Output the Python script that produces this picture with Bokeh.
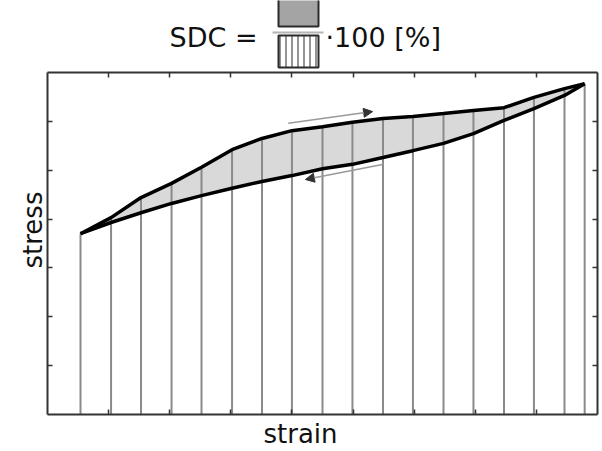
import math
from bokeh.plotting import figure
from bokeh.models import Range1d, FixedTicker, LinearAxis, Arrow, NormalHead, Title
from bokeh.layouts import column
from bokeh.embed import file_html
from bokeh.resources import INLINE
from bokeh.core.properties import value

# ---- data ----
strain = [0.54, 1.04, 1.53, 2.03, 2.52, 3.02, 3.51, 4.00, 4.50, 4.99,
          5.49, 5.98, 6.48, 6.97, 7.47, 7.96, 8.46, 8.79]
stress_loading = [3.70, 4.03, 4.44, 4.73, 5.06, 5.42, 5.65, 5.81, 5.89, 5.98,
                  6.06, 6.10, 6.16, 6.22, 6.28, 6.49, 6.67, 6.77]
stress_unloading = [3.70, 3.93, 4.13, 4.32, 4.48, 4.63, 4.77, 4.89, 5.03, 5.12,
                    5.26, 5.40, 5.55, 5.75, 6.02, 6.26, 6.53, 6.77]
x_ticks = [1, 2, 3, 4, 5, 6, 7, 8]
y_ticks = [1, 2, 3, 4, 5, 6]
arrow_loading = (3.94, 5.96, 5.32, 6.20)
arrow_unloading = (5.50, 5.12, 4.22, 4.81)

FONT = "DejaVu Sans"

# ---- header with the SDC formula (page-pixel coordinates) ----
head = figure(width=602, height=70, x_range=Range1d(47, 597), y_range=Range1d(70, 0),
              x_axis_type=None, y_axis_type=None, toolbar_location=None,
              output_backend="svg", min_border_left=47, min_border_right=5,
              min_border_top=0, min_border_bottom=0, outline_line_color=None)
head.text(x=[257], y=[37], text=["SDC ="], text_font=value(FONT), text_font_size="27px",
          text_align="right", text_baseline="alphabetic", text_color="#111111")
head.text(x=[325], y=[37], text=["\u00b7100 [%]"], text_font=value(FONT), text_font_size="27px",
          text_align="left", text_baseline="alphabetic", text_color="#111111")
head.quad(left=[278], right=[318], top=[-5], bottom=[26], fill_color="#a4a4a4",
          line_color="#2b2b2b", line_width=2)
head.segment(x0=[272], y0=[32], x1=[323], y1=[32], line_color="#b5b5b5", line_width=2)
head.quad(left=[278], right=[318], top=[35], bottom=[67], fill_color="white",
          hatch_pattern="|", hatch_scale=6, hatch_weight=1.5, hatch_color="#707070",
          line_color="#2b2b2b", line_width=2)

# ---- main plot ----
p = figure(width=602, height=381, x_range=Range1d(0, 9), y_range=Range1d(0, 7),
           x_axis_type=None, y_axis_type=None, toolbar_location=None,
           output_backend="svg", min_border_left=47, min_border_right=5,
           min_border_top=2, min_border_bottom=37, outline_line_color=None)


def mk_axis(ticks, label_size="1px", orientation="horizontal"):
    return LinearAxis(ticker=FixedTicker(ticks=ticks),
                      major_label_overrides={t: "" for t in ticks},
                      major_label_text_font_size=label_size,
                      major_label_orientation=orientation,
                      major_label_standoff=0, major_tick_in=5, major_tick_out=0,
                      minor_tick_line_color=None, axis_line_width=2,
                      axis_line_color="#333333", major_tick_line_color="#333333",
                      major_tick_line_width=1.5)


p.add_layout(mk_axis(x_ticks), "below")
p.add_layout(mk_axis(x_ticks), "above")
p.add_layout(mk_axis(y_ticks, label_size="11px", orientation="vertical"), "left")
p.add_layout(mk_axis(y_ticks), "right")

p.varea(x=strain, y1=stress_unloading, y2=stress_loading, fill_color="#d9d9d9")
p.segment(x0=strain, y0=[0] * len(strain), x1=strain, y1=stress_loading,
          line_color="#8a8a8a", line_width=2)
p.line(strain, stress_loading, line_color="black", line_width=3.5)
p.line(strain, stress_unloading, line_color="black", line_width=3.5)

for (xs, ys, xe, ye) in (arrow_loading, arrow_unloading):
    p.add_layout(Arrow(end=NormalHead(size=9, fill_color="#333333", line_color="#333333"),
                       x_start=xs, y_start=ys, x_end=xe, y_end=ye,
                       line_color="#9a9a9a", line_width=1.5))

p.add_layout(Title(text="strain", align="left", offset=216, standoff=4,
                   vertical_align="bottom",
                   text_font=FONT, text_font_size="26px", text_font_style="normal",
                   text_color="#111111"), "below")
p.add_layout(Title(text="stress", align="left", offset=146, standoff=0,
                   vertical_align="bottom",
                   text_font=FONT, text_font_size="26px", text_font_style="normal",
                   text_color="#111111"), "left")

layout = column(head, p)
open("out.html", "w").write(file_html(layout, INLINE))
